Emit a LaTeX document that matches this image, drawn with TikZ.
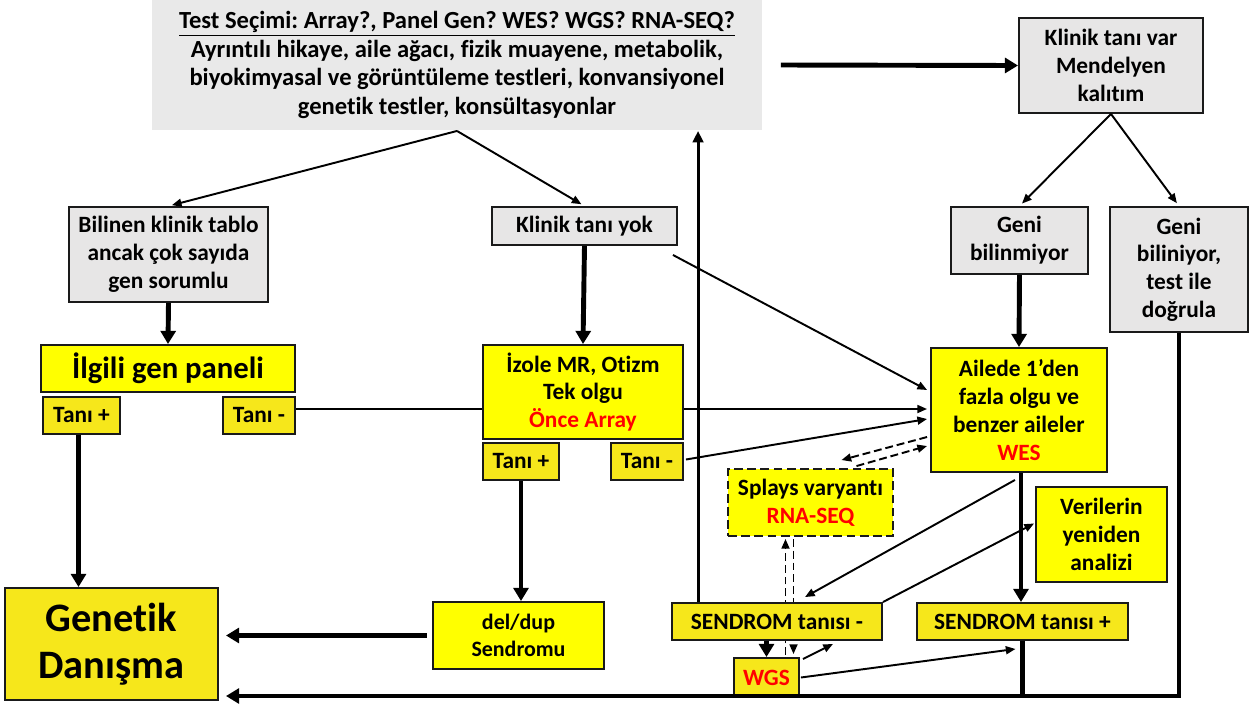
\documentclass[tikz,border=0pt]{standalone}
\usepackage{fontspec}
\setmainfont{Carlito}[Ligatures=NoCommon]
\usepackage{tikz}
\usetikzlibrary{arrows.meta,calc,backgrounds}
\definecolor{boxgray}{HTML}{E7E6E6}
\definecolor{topgray}{HTML}{E9E9E9}
\definecolor{brightyellow}{HTML}{FFFF00}
\definecolor{softyellow}{HTML}{F6E71B}
\definecolor{alertred}{HTML}{FF0000}
\definecolor{edgeblack}{HTML}{1A1A1A}
\frenchspacing

\begin{document}
\begin{tikzpicture}[
    x=0.02cm, y=-0.02cm,
    % --- Node styles ---
    box/.style={
      rectangle, draw=edgeblack, line width=1.1pt,
      align=center, inner sep=0pt,
      font=\fontsize{13.3}{15.8}\selectfont\bfseries,
    },
    graybox/.style={box, fill=boxgray},
    mainbox/.style={box, fill=brightyellow},
    resbox/.style={box, fill=softyellow},
    splicebox/.style={box, fill=brightyellow, dash pattern=on 5pt off 2.5pt},
    % --- Arrow styles ---
    flow/.style={-{Triangle[length=5.5pt, width=4.5pt]}, line width=1.1pt},
    midflow/.style={-{Triangle[length=6.5pt, width=6pt]}, line width=1.7pt},
    bigflow/.style={-{Triangle[length=7.5pt, width=8.5pt]}, line width=2.8pt},
    dashflow/.style={flow, dash pattern=on 4.5pt off 2.2pt},
    plainlink/.style={line width=1.1pt},
    bigline/.style={line width=2.8pt},
  ]
    \useasboundingbox (0,0) rectangle (1259,704);

    % ===================== TOP ROW =====================
    \node[box, draw=none, fill=topgray, font=\fontsize{14}{16.4}\selectfont\bfseries,
          minimum width=12.2cm, minimum height=2.6cm] (top) at (457,65)
      {\underline{Test Seçimi: Array?, Panel Gen? WES? WGS? RNA-SEQ?}\\
       Ayrıntılı hikaye, aile ağacı, fizik muayene, metabolik,\\
       biyokimyasal ve görüntüleme testleri, konvansiyonel\\
       genetik testler, konsültasyonlar};
    \node[graybox, minimum width=3.68cm, minimum height=1.9cm] (klinikvar) at (1111,65.5)
      {Klinik tanı var\\Mendelyen\\kalıtım};

    % ===================== SECOND ROW =====================
    \node[graybox, minimum width=3.98cm, minimum height=1.9cm] (bilinen) at (168.5,254.5)
      {Bilinen klinik tablo\\ancak çok sayıda\\gen sorumlu};
    \node[graybox, minimum width=3.7cm, minimum height=0.76cm] (yok) at (584.5,226)
      {Klinik tanı yok};
    \node[graybox, minimum width=2.74cm, minimum height=1.34cm] (genibilinmiyor) at (1019.5,240.5)
      {Geni\\bilinmiyor};
    \node[graybox, minimum width=2.76cm, minimum height=2.5cm] (genibiliniyor) at (1179,269.5)
      {Geni\\biliniyor,\\test ile\\doğrula};

    % ===================== TEST BOXES =====================
    \node[mainbox, font=\fontsize{17.5}{20}\selectfont\bfseries,
          minimum width=5.08cm, minimum height=0.94cm] (panel) at (168,368.5) {İlgili gen paneli};
    \node[resbox, minimum width=1.54cm, minimum height=0.74cm] (tanip1) at (81.5,415.5) {Tanı +};
    \node[resbox, minimum width=1.44cm, minimum height=0.74cm] (tanin1) at (259,415.5) {Tanı -};

    \node[mainbox, minimum width=4.0cm, minimum height=1.88cm] (izole) at (583,392)
      {İzole MR, Otizm\\Tek olgu\\\textcolor{alertred}{Önce Array}};
    \node[resbox, minimum width=1.52cm, minimum height=0.74cm] (tanip2) at (521,461.5) {Tanı +};
    \node[resbox, minimum width=1.44cm, minimum height=0.74cm] (tanin2) at (647,461.5) {Tanı -};

    \node[mainbox, minimum width=3.52cm, minimum height=2.48cm] (ailede) at (1019,410)
      {Ailede 1’den\\fazla olgu ve\\benzer aileler\\\textcolor{alertred}{WES}};
    \node[splicebox, minimum width=3.3cm, minimum height=1.34cm] (splays) at (810.5,502.5)
      {Splays varyantı\\\textcolor{alertred}{RNA-SEQ}};
    \node[mainbox, minimum width=2.62cm, minimum height=1.9cm] (verilerin) at (1101.5,534.5)
      {Verilerin\\yeniden\\analizi};

    % ===================== BOTTOM ROW =====================
    \node[resbox, minimum width=4.2cm, minimum height=0.74cm] (sendneg) at (777,621.5) {SENDROM tanısı -};
    \node[resbox, minimum width=4.22cm, minimum height=0.74cm] (sendpos) at (1022.5,621.5) {SENDROM tanısı +};
    \node[resbox, minimum width=1.3cm, minimum height=0.78cm] (wgs) at (766.5,677.5)
      {\textcolor{alertred}{WGS}};
    \node[mainbox, font=\fontsize{12.5}{15.5}\selectfont\bfseries,
          minimum width=3.42cm, minimum height=1.34cm] (deldup) at (518.5,635.5) {del/dup\\Sendromu};
    \node[resbox, font=\fontsize{23}{26.5}\selectfont\bfseries,
          minimum width=4.26cm, minimum height=2.24cm] (genetik) at (111.5,644) {Genetik\\Danışma};

    % ===================== ARROWS: TOP =====================
    \draw[bigflow] ($(top.east)+(18,0)$) -- (klinikvar.west);
    \draw[flow, shorten >=2pt] (top.south) -- (bilinen.north);
    \draw[flow, shorten >=2pt] (top.south) -- (yok.north);
    \draw[flow, shorten >=2pt] (klinikvar.south) -- (genibilinmiyor.north);
    \draw[flow, shorten >=2pt] (klinikvar.south) -- (genibiliniyor.north);

    % ===================== ARROWS: DOWNWARD =====================
    \coordinate (leftdrop) at ($(tanip1.south)+(-3,0)$);
    \coordinate (wesdrop)  at ($(ailede.south)+(2,0)$);
    \draw[bigflow] (bilinen.south) -- (panel.north);
    \draw[bigflow] (yok.south) -- (izole.north);
    \draw[bigflow] (genibilinmiyor.south) -- (ailede.north);
    \draw[bigflow] (leftdrop) -- (leftdrop |- genetik.north);
    \draw[bigflow] (tanip2.south) -- (tanip2.south |- deldup.north);
    \draw[bigflow] (wesdrop) -- (wesdrop |- sendpos.north);
    \draw[bigflow] (sendneg.south -| wgs.north) -- (wgs.north);

    % ===================== ARROWS: INTO WES =====================
    \coordinate (midrow) at (0,409);
    \draw[plainlink] (tanin1.east |- midrow) -- (izole.west |- midrow);
    \draw[flow] (izole.east |- midrow) -- ($(ailede.west |- midrow)+(-3,0)$);
    \draw[flow] ($(tanin2.east)+(2,-2)$) -- ($(ailede.west)+(-3,9)$);
    \draw[flow] ($(yok.south east)+(-5,9)$) -- ($(ailede.west)+(-3,-20)$);

    % ===================== WES / WGS FEEDBACK =====================
    \draw[flow] ($(ailede.south)+(-4,7)$) -- ($(sendneg.north)+(28,-5)$);
    \draw[flow] (sendneg.north east) -- ($(verilerin.west)+(-1,-11)$);
    \draw[midflow] ($(sendneg.north west)+(27,0)$) coordinate (upfoot) -- (upfoot |- top.south);
    \draw[flow] ($(wgs.north east)+(3,2)$) -- ($(sendneg.south)+(56,3)$);
    \draw[flow] ($(wgs.east)+(1,0)$) -- ($(sendpos.south)+(-7,8)$);

    \begin{scope}[on background layer]
      \draw[dashflow] ($(ailede.west)+(-3,27)$) -- ($(splays.north)+(31,-8)$);
      \draw[dashflow] ($(splays.north)+(46,-2)$) -- ($(ailede.west)+(-3,36)$);
      \draw[dashflow] ($(wgs.north)+(19,-2)$) -- ($(splays.south)+(-25,2)$);
      \draw[dashflow] ($(splays.south)+(-17,2)$) -- ($(wgs.north)+(27,-3)$);
    \end{scope}

    % ===================== TO GENETIC COUNSELLING =====================
    \coordinate (botright) at (genibiliniyor.south |- 0,696);
    \draw[bigline] (sendpos.south) -- (sendpos.south |- botright);
    \draw[bigflow, shorten >=4pt] (genibiliniyor.south) -- (botright) -- (genetik.east |- botright);
    \draw[bigflow, shorten <=3pt, shorten >=4pt] (deldup.west) -- (deldup.west -| genetik.east);

  \end{tikzpicture}
\end{document}
